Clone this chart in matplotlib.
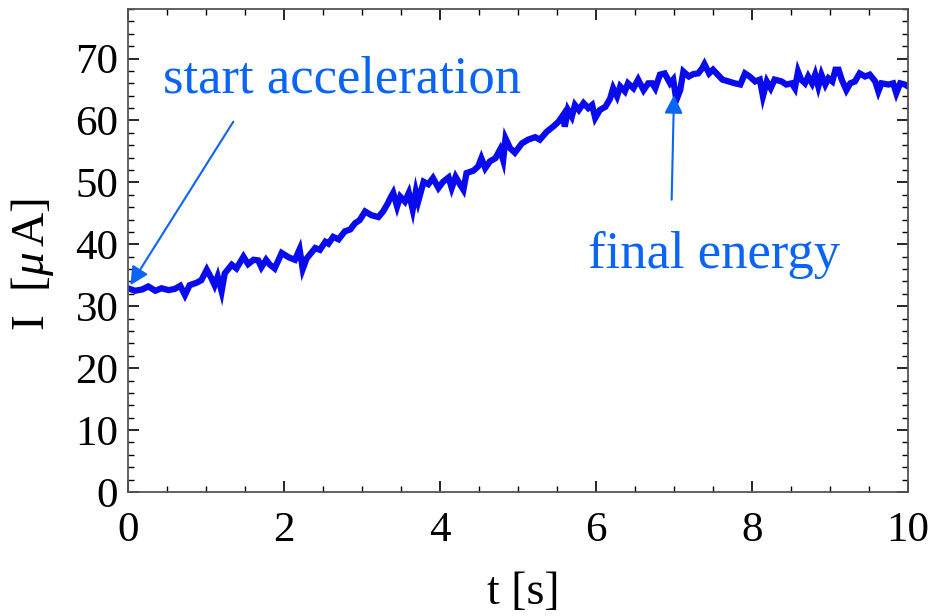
import numpy as np
import matplotlib
matplotlib.use('Agg')
import matplotlib.pyplot as plt
from matplotlib.ticker import MultipleLocator

### DATA ###
t_s = [0.00, 0.09, 0.18, 0.26, 0.35, 0.43, 0.52, 0.60, 0.67, 0.73, 0.79, 0.88, 0.94,
       1.01, 1.07, 1.11, 1.15, 1.20, 1.24, 1.33, 1.39, 1.48, 1.54, 1.61, 1.67, 1.71,
       1.77, 1.82, 1.88, 1.97, 2.06, 2.14, 2.20, 2.24, 2.29, 2.36, 2.40, 2.46, 2.53,
       2.57, 2.63, 2.70, 2.78, 2.85, 2.91, 2.97, 3.04, 3.12, 3.21, 3.27, 3.33, 3.36,
       3.40, 3.45, 3.49, 3.55, 3.60, 3.65, 3.69, 3.72, 3.79, 3.85, 3.91, 3.98, 4.04,
       4.11, 4.15, 4.20, 4.26, 4.30, 4.34, 4.43, 4.49, 4.53, 4.58, 4.64, 4.71, 4.77,
       4.81, 4.84, 4.90, 4.96, 5.05, 5.13, 5.22, 5.28, 5.37, 5.45, 5.52, 5.58, 5.60,
       5.64, 5.69, 5.73, 5.78, 5.84, 5.90, 5.95, 5.99, 6.05, 6.12, 6.18, 6.22, 6.27,
       6.31, 6.37, 6.41, 6.48, 6.54, 6.61, 6.67, 6.72, 6.76, 6.82, 6.88, 6.95, 6.99,
       7.03, 7.08, 7.12, 7.19, 7.25, 7.31, 7.36, 7.39, 7.45, 7.50, 7.56, 7.62, 7.70,
       7.78, 7.85, 7.91, 7.97, 8.04, 8.10, 8.14, 8.19, 8.24, 8.29, 8.38, 8.44, 8.51,
       8.55, 8.59, 8.63, 8.68, 8.72, 8.77, 8.81, 8.85, 8.89, 8.94, 8.98, 9.03, 9.07,
       9.11, 9.15, 9.21, 9.26, 9.32, 9.38, 9.45, 9.51, 9.58, 9.62, 9.66, 9.75, 9.81,
       9.85, 9.90, 9.96, 10.00]
current_uA = [32.9, 32.5, 32.7, 33.2, 32.5, 32.9, 32.6, 32.8, 33.3, 31.8, 33.4, 33.8, 34.2,
              35.9, 34.5, 33.4, 34.8, 32.4, 35.3, 36.7, 36.1, 38.0, 36.8, 37.5, 37.4, 36.3,
              37.5, 36.7, 36.1, 38.6, 37.9, 37.5, 39.2, 36.0, 37.7, 38.8, 39.4, 39.1, 40.4,
              40.1, 41.2, 40.8, 42.1, 42.4, 43.4, 43.9, 45.3, 44.7, 44.4, 45.3, 46.6, 47.4,
              48.3, 46.1, 47.7, 46.9, 48.3, 45.6, 48.5, 46.9, 50.1, 49.7, 50.7, 49.1, 50.1,
              50.8, 49.1, 50.9, 49.6, 48.8, 51.5, 51.9, 52.6, 53.9, 52.3, 53.4, 53.9, 55.3,
              53.6, 57.1, 55.5, 54.8, 56.3, 56.9, 57.3, 56.9, 58.2, 59.0, 59.8, 60.9, 59.0,
              61.7, 60.6, 62.5, 61.7, 62.8, 62.0, 62.5, 60.4, 61.7, 62.2, 63.5, 65.2, 63.9,
              65.5, 64.7, 66.0, 65.2, 66.6, 64.9, 66.0, 66.0, 65.2, 67.4, 67.6, 66.0, 66.6,
              63.3, 64.9, 67.9, 67.1, 67.5, 67.6, 68.4, 69.1, 67.6, 68.2, 67.4, 66.6, 66.3,
              66.0, 65.8, 67.6, 67.1, 66.3, 66.6, 63.9, 66.3, 65.2, 66.6, 66.3, 65.8, 66.0,
              65.2, 67.9, 66.6, 66.0, 67.1, 66.0, 67.4, 65.5, 67.4, 65.8, 66.8, 66.3, 68.2,
              68.2, 66.6, 64.9, 66.0, 66.3, 67.6, 67.1, 67.4, 66.3, 64.7, 66.0, 65.8, 66.0,
              64.4, 66.0, 65.8, 65.5]

x_ticks = [0, 2, 4, 6, 8, 10]
y_ticks = [0, 10, 20, 30, 40, 50, 60, 70]

label_start = 'start acceleration'
label_final = 'final energy'

### STYLE ###
plt.rcParams['font.family'] = ['Liberation Serif', 'DejaVu Serif']
plt.rcParams['mathtext.fontset'] = 'custom'
plt.rcParams['mathtext.rm'] = 'Liberation Serif'
plt.rcParams['mathtext.it'] = 'Liberation Serif:italic'

line_col = '#0a0aee'
note_col = '#0a64f5'
spine_col = '#555555'

fig = plt.figure(figsize=(9.33, 6.16), dpi=100)
ax = fig.add_axes([0.1372, 0.2013, 0.836, 0.7841])

ax.plot(t_s, current_uA, color=line_col, lw=4.5, solid_joinstyle='miter')

ax.set_xlim(0, 10)
ax.set_ylim(0, 78)
ax.set_xticks(x_ticks)
ax.set_yticks(y_ticks)
ax.xaxis.set_minor_locator(MultipleLocator(0.5))
ax.yaxis.set_minor_locator(MultipleLocator(2))
ax.tick_params(which='both', direction='in', top=True, right=True,
               colors='black', labelsize=31, width=1.2)
ax.tick_params(axis='x', pad=14)
ax.tick_params(axis='y', pad=7)
ax.tick_params(which='major', length=8)
ax.tick_params(which='minor', length=4.5, width=1.0)
for sp in ax.spines.values():
    sp.set_color(spine_col)
    sp.set_linewidth(1.3)

ax.set_xlabel('t [s]', fontsize=33)
ax.set_ylabel(r'I  [$\mu\,$A]', fontsize=34)
ax.xaxis.set_label_coords(0.507, -0.165)
ax.yaxis.set_label_coords(-0.092, 0.47)

# annotations
arrow_kw = dict(arrowstyle='-|>,head_length=1.1,head_width=0.55',
                color=note_col, lw=1.5, shrinkA=0, shrinkB=0)
ax.annotate('', xy=(0.03, 33.4), xytext=(1.35, 59.8), arrowprops=arrow_kw)
ax.text(0.45, 64.5, label_start, color=note_col, fontsize=38, va='baseline')

ax.annotate('', xy=(7.0, 64.1), xytext=(6.97, 47.2), arrowprops=arrow_kw)
ax.text(5.9, 36.2, label_final, color=note_col, fontsize=38, va='baseline')

fig.savefig('out.png', dpi=100)
